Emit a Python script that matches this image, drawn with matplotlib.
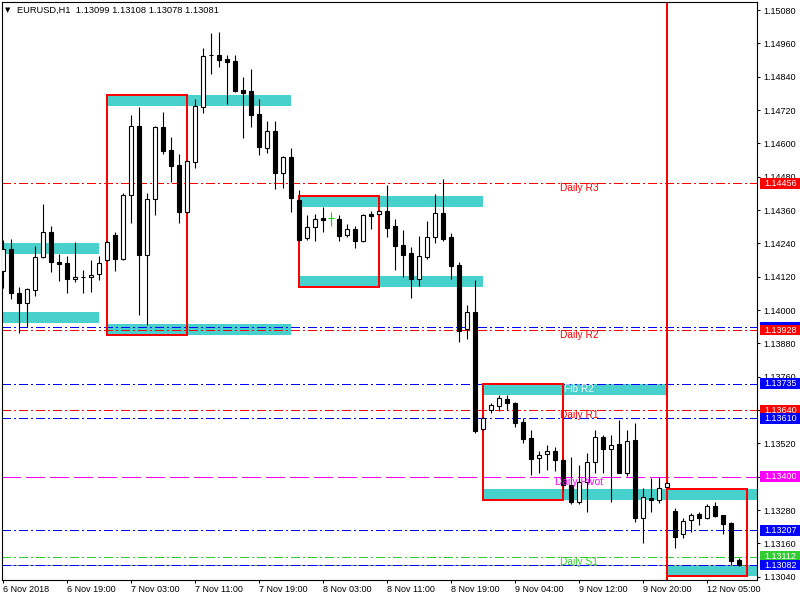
import matplotlib
matplotlib.use('Agg')
import matplotlib.pyplot as plt
import matplotlib.transforms as mtransforms
from matplotlib.patches import Rectangle
import numpy as np

plt.rcParams['font.family'] = ['Liberation Sans', 'DejaVu Sans']

# EURUSD H1 candles
opens = [1.14140, 1.14220, 1.14061, 1.14025, 1.14072, 1.14191, 1.14281, 1.14173, 1.14169, 1.14112,
         1.14119, 1.14119, 1.14130, 1.14180, 1.14270, 1.14184, 1.14414, 1.14662, 1.14198, 1.14400,
         1.14659, 1.14576, 1.14522, 1.14353, 1.14533, 1.14731, 1.14918, 1.14918, 1.14904, 1.14896,
         1.14792, 1.14788, 1.14706, 1.14583, 1.14644, 1.14493, 1.14551, 1.14396, 1.14259, 1.14299,
         1.14331, 1.14331, 1.14328, 1.14270, 1.14292, 1.14248, 1.14346, 1.14346, 1.14356, 1.14302,
         1.14234, 1.14205, 1.14112, 1.14191, 1.14263, 1.14349, 1.14263, 1.14162, 1.13932, 1.13993,
         1.13572, 1.13640, 1.13654, 1.13680, 1.13665, 1.13597, 1.13539, 1.13467, 1.13482, 1.13492,
         1.13460, 1.13370, 1.13309, 1.13381, 1.13453, 1.13543, 1.13500, 1.13518, 1.13413, 1.13532,
         1.13251, 1.13323, 1.13316, 1.13363, 1.13276, 1.13194, 1.13244, 1.13266, 1.13251, 1.13294,
         1.13262, 1.13233, 1.13099]
highs = [1.14252, 1.14256, 1.14083, 1.14079, 1.14230, 1.14382, 1.14302, 1.14202, 1.14194, 1.14245,
         1.14144, 1.14180, 1.14194, 1.14248, 1.14281, 1.14421, 1.14702, 1.14731, 1.14421, 1.14662,
         1.14713, 1.14623, 1.14562, 1.14540, 1.14760, 1.14943, 1.14997, 1.15001, 1.14918, 1.14918,
         1.14839, 1.14868, 1.14760, 1.14680, 1.14680, 1.14554, 1.14583, 1.14432, 1.14342, 1.14346,
         1.14371, 1.14353, 1.14342, 1.14310, 1.14302, 1.14346, 1.14356, 1.14360, 1.14450, 1.14328,
         1.14288, 1.14227, 1.14266, 1.14320, 1.14418, 1.14472, 1.14277, 1.14173, 1.14018, 1.14108,
         1.13615, 1.13665, 1.13694, 1.13694, 1.13669, 1.13611, 1.13568, 1.13492, 1.13514, 1.13507,
         1.13467, 1.13471, 1.13442, 1.13485, 1.13568, 1.13550, 1.13550, 1.13604, 1.13568, 1.13593,
         1.13359, 1.13395, 1.13399, 1.13381, 1.13287, 1.13251, 1.13269, 1.13273, 1.13302, 1.13309,
         1.13262, 1.13237, 1.13108]
lows = [1.14079, 1.14040, 1.13917, 1.13939, 1.14050, 1.14187, 1.14137, 1.14104, 1.14061, 1.14101,
        1.14061, 1.14065, 1.14108, 1.14176, 1.14140, 1.14180, 1.14313, 1.13982, 1.13946, 1.14342,
        1.14562, 1.14461, 1.14313, 1.14350, 1.14511, 1.14709, 1.14850, 1.14875, 1.14742, 1.14785,
        1.14619, 1.14659, 1.14558, 1.14565, 1.14436, 1.14439, 1.14353, 1.14248, 1.14252, 1.14248,
        1.14281, 1.14302, 1.14248, 1.14263, 1.14223, 1.14245, 1.14292, 1.14342, 1.14263, 1.14144,
        1.14119, 1.14043, 1.14086, 1.14184, 1.14241, 1.14248, 1.14112, 1.13885, 1.13896, 1.13557,
        1.13568, 1.13629, 1.13636, 1.13640, 1.13579, 1.13521, 1.13406, 1.13413, 1.13424, 1.13420,
        1.13352, 1.13302, 1.13302, 1.13273, 1.13413, 1.13413, 1.13309, 1.13413, 1.13402, 1.13237,
        1.13161, 1.13273, 1.13305, 1.13359, 1.13143, 1.13179, 1.13201, 1.13226, 1.13248, 1.13255,
        1.13194, 1.13082, 1.13078]
closes = [1.14220, 1.14061, 1.14025, 1.14076, 1.14191, 1.14281, 1.14173, 1.14166, 1.14112, 1.14119,
          1.14118, 1.14126, 1.14169, 1.14245, 1.14184, 1.14414, 1.14662, 1.14198, 1.14400, 1.14659,
          1.14572, 1.14518, 1.14353, 1.14536, 1.14734, 1.14914, 1.14917, 1.14900, 1.14893, 1.14788,
          1.14781, 1.14702, 1.14587, 1.14644, 1.14493, 1.14551, 1.14403, 1.14252, 1.14299, 1.14328,
          1.14324, 1.14331, 1.14266, 1.14292, 1.14248, 1.14342, 1.14338, 1.14356, 1.14295, 1.14230,
          1.14198, 1.14112, 1.14194, 1.14263, 1.14349, 1.14256, 1.14158, 1.13924, 1.13993, 1.13564,
          1.13611, 1.13658, 1.13683, 1.13665, 1.13593, 1.13536, 1.13464, 1.13478, 1.13492, 1.13460,
          1.13370, 1.13309, 1.13381, 1.13453, 1.13543, 1.13500, 1.13514, 1.13413, 1.13528, 1.13251,
          1.13327, 1.13316, 1.13359, 1.13377, 1.13183, 1.13240, 1.13262, 1.13251, 1.13294, 1.13258,
          1.13229, 1.13096, 1.13081]

time_tick_bars = [0, 8, 16, 24, 32, 40, 48, 56, 64, 72, 80, 88]
time_tick_labels = ['6 Nov 2018', '6 Nov 19:00', '7 Nov 03:00', '7 Nov 11:00', '7 Nov 19:00',
                    '8 Nov 03:00', '8 Nov 11:00', '8 Nov 19:00', '9 Nov 04:00', '9 Nov 12:00',
                    '9 Nov 20:00', '12 Nov 05:00']
price_ticks = [1.13040, 1.13160, 1.13280, 1.13400, 1.13520, 1.13640, 1.13760, 1.13880, 1.14000,
               1.14120, 1.14240, 1.14360, 1.14480, 1.14600, 1.14720, 1.14840, 1.14960, 1.15080]
# tick labels fully hidden behind level tags in the original
hidden_ticks = [1.13400, 1.13640]

# range boxes: start bar, top and bottom price
box_start = [-11, 13, 37, 60, 83]
box_top = [1.14241, 1.14774, 1.14411, 1.13734, 1.13356]
box_bottom = [1.13954, 1.13911, 1.14083, 1.13316, 1.13042]

# pivot / fib levels
level_values = [1.14456, 1.13938, 1.13928, 1.13735, 1.13640, 1.13610, 1.13400, 1.13207, 1.13112, 1.13082]
level_colors = ['#ff0000', '#0000ff', '#ff0000', '#0000ff', '#ff0000', '#0000ff', '#ff00ff', '#0000ff', '#32cd32', '#0000ff']
level_tag_shown = [True, False, True, True, True, True, True, True, True, True]
level_names = ['Daily R3', '', 'Daily R2', 'Fib R2', 'Daily R1', '', 'Daily Pivot', '', 'Daily S1', '']
name_colors = ['#ff0000', '', '#ff0000', 'white', '#ff0000', '', '#ff00ff', '', '#32cd32', '']
bid_price = 1.13081
week_line_bar = 82.96

CYAN = '#48D1CC'
PX = 0.72  # one pixel in points
LW = 1.0
dashdot = (0, (5.8, 2.2, 1.4, 2.2))
dashed = (0, (13.5, 3.6))

fig = plt.figure(figsize=(8, 6), dpi=100)
fig.patch.set_facecolor('white')
ax = fig.add_axes([2 / 800, 20 / 600, 755 / 800, 578 / 600])
ax.set_xlim(-0.125, 94.25)
ax.set_ylim(1.13028, 1.15109)

# bands and boxes
band_h = 0.00040
for s, t, b in zip(box_start, box_top, box_bottom):
    ax.add_patch(Rectangle((s, t - band_h), 23, band_h, facecolor=CYAN, edgecolor='none', zorder=1))
    ax.add_patch(Rectangle((s, b), 23, band_h, facecolor=CYAN, edgecolor='none', zorder=1))
    ax.add_patch(Rectangle((s, b), 10, t - b, facecolor='none', edgecolor='#ff0000',
                           lw=2 * PX, antialiased=False, zorder=3))

# horizontal levels
ax.axhline(bid_price, color='#778899', lw=PX, antialiased=False, zorder=2)
for v, col in zip(level_values, level_colors):
    ls = dashed if col == '#ff00ff' else dashdot
    ax.axhline(v, color=col, lw=LW, ls=ls, antialiased=False, zorder=2)

ax.axvline(week_line_bar, color='#ff0000', lw=2 * PX, antialiased=False, zorder=2)

# candles
o, h, l, c = (np.array(a) for a in (opens, highs, lows, closes))
x = np.arange(len(o))
up = c > o
down = c < o
flat = c == o
w = 0.55
ax.vlines(x[~flat], l[~flat], h[~flat], color='black', lw=0.8, zorder=4)
ax.bar(x[up], (c - o)[up], bottom=o[up], width=w, facecolor='white', edgecolor='black', lw=0.8, zorder=5)
ax.bar(x[down], (o - c)[down], bottom=c[down], width=w, facecolor='black', edgecolor='black', lw=0.8, zorder=5)
ax.vlines(x[flat], l[flat], h[flat], color='#00e000', lw=0.8, zorder=4)
ax.hlines(c[flat], x[flat] - 0.35, x[flat] + 0.35, color='#00e000', lw=0.8, zorder=5)

# level names on the chart
for v, n, col in zip(level_values, level_names, name_colors):
    if n:
        ax.text(72, v, n, ha='center', va='top', color=col, fontsize=7.3, zorder=8)

# price axis
ax.yaxis.tick_right()
ax.set_yticks(price_ticks)
ax.set_yticklabels(['' if p in hidden_ticks else '%.5f' % p for p in price_ticks])
ax.tick_params(axis='y', length=2.2, pad=2, labelsize=6.5, width=0.75)
ax.set_xticks(time_tick_bars)
ax.set_xticklabels(time_tick_labels)
ax.tick_params(axis='x', length=2.2, pad=1.5, labelsize=6.5, width=0.75)
plt.setp(ax.get_xticklabels(), ha='left')
for sp in ax.spines.values():
    sp.set_linewidth(0.8)

# coloured price tags on the right
trans = mtransforms.blended_transform_factory(ax.transAxes, ax.transData)
for v, col, shown in zip(level_values, level_colors, level_tag_shown):
    ax.add_patch(Rectangle((1.004, v - 0.000195), 0.053, 0.00039, transform=trans,
                           facecolor=col, edgecolor='none', clip_on=False, zorder=20))
    if shown:
        ax.text(1.0093, v, '%.5f' % v, transform=trans, color='white', fontsize=6.5,
                va='center', ha='left', clip_on=False, zorder=21)

# header
fig.text(5 / 800, 1 - 10 / 600, '\u25bc', fontsize=5, family='DejaVu Sans', va='center')
fig.text(17 / 800, 1 - 10 / 600,
         'EURUSD,H1  %.5f %.5f %.5f %.5f' % (opens[-1], highs[-1], lows[-1], closes[-1]),
         fontsize=6.7, va='center')

fig.savefig('out.png', dpi=100, facecolor='white')
